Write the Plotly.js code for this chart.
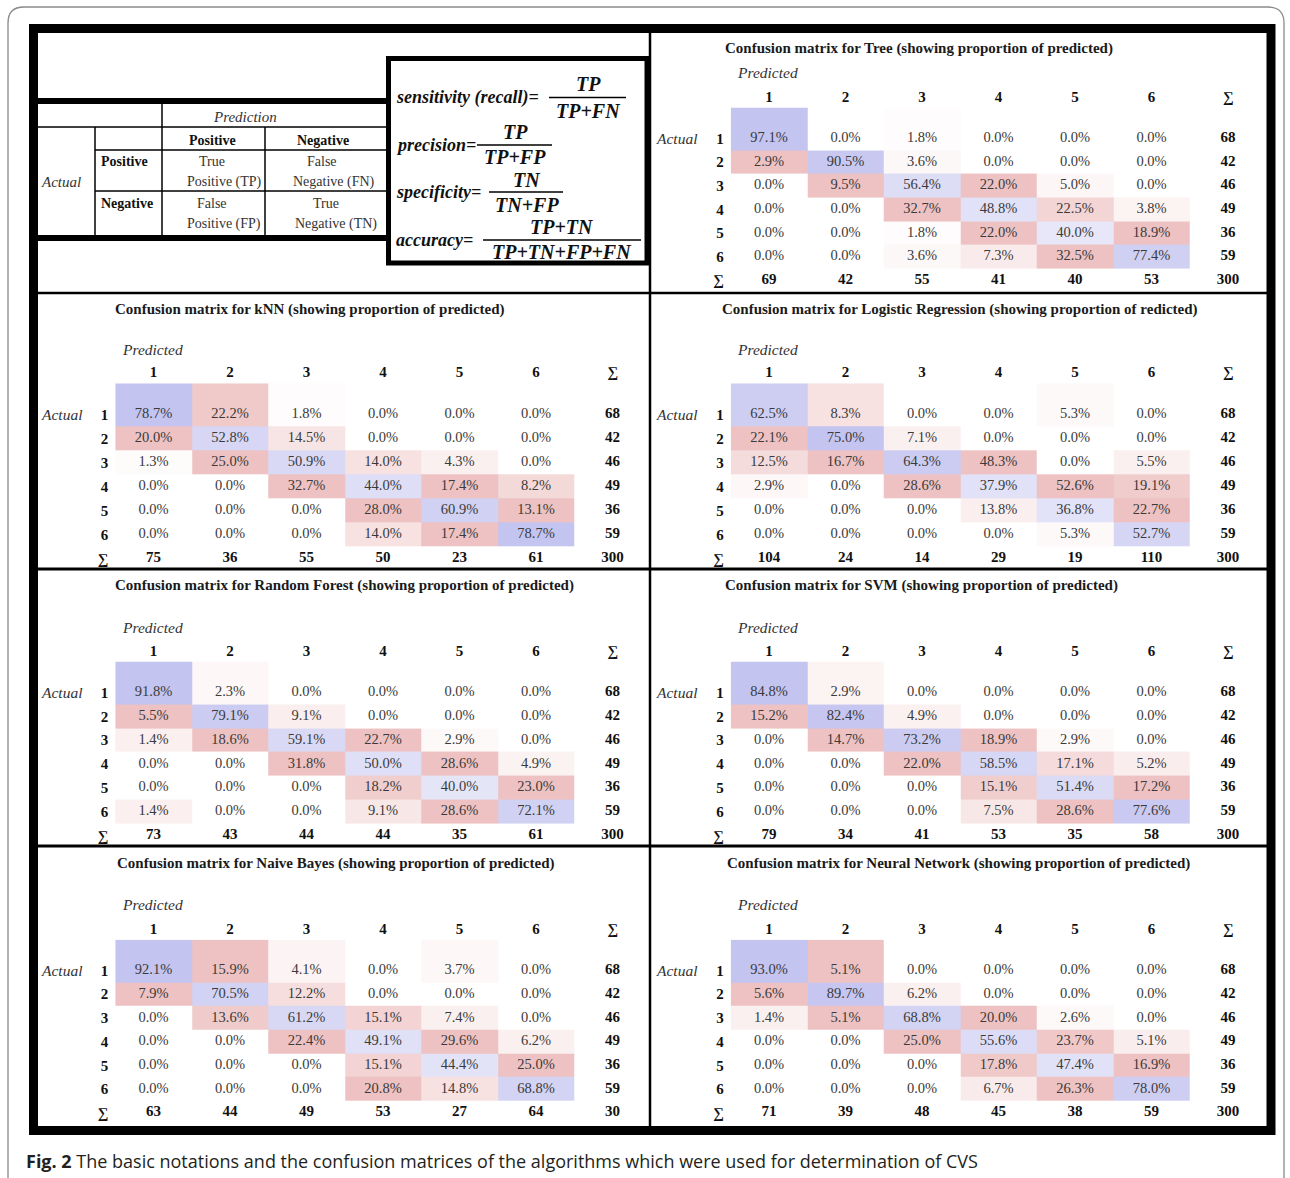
<!DOCTYPE html>
<html><head><meta charset="utf-8">
<script src="https://cdn.plot.ly/plotly-3.0.1.min.js"></script>
<style>html,body{margin:0;padding:0;background:#fff;}#chart{width:1290px;height:1178px;}</style>
</head><body><div id="chart"></div>
<script>
// ---------------- DATA ----------------
const classLabels = ['1','2','3','4','5','6'];
const sumLabel = '\u2211';
const actualCounts = [68, 42, 46, 49, 36, 59];

const treePct = [
  [97.1, 0.0, 1.8, 0.0, 0.0, 0.0],
  [2.9, 90.5, 3.6, 0.0, 0.0, 0.0],
  [0.0, 9.5, 56.4, 22.0, 5.0, 0.0],
  [0.0, 0.0, 32.7, 48.8, 22.5, 3.8],
  [0.0, 0.0, 1.8, 22.0, 40.0, 18.9],
  [0.0, 0.0, 3.6, 7.3, 32.5, 77.4]];
const treeColSum = [69, 42, 55, 41, 40, 53];
const treeTotal = '300';

const knnPct = [
  [78.7, 22.2, 1.8, 0.0, 0.0, 0.0],
  [20.0, 52.8, 14.5, 0.0, 0.0, 0.0],
  [1.3, 25.0, 50.9, 14.0, 4.3, 0.0],
  [0.0, 0.0, 32.7, 44.0, 17.4, 8.2],
  [0.0, 0.0, 0.0, 28.0, 60.9, 13.1],
  [0.0, 0.0, 0.0, 14.0, 17.4, 78.7]];
const knnColSum = [75, 36, 55, 50, 23, 61];
const knnTotal = '300';

const lrPct = [
  [62.5, 8.3, 0.0, 0.0, 5.3, 0.0],
  [22.1, 75.0, 7.1, 0.0, 0.0, 0.0],
  [12.5, 16.7, 64.3, 48.3, 0.0, 5.5],
  [2.9, 0.0, 28.6, 37.9, 52.6, 19.1],
  [0.0, 0.0, 0.0, 13.8, 36.8, 22.7],
  [0.0, 0.0, 0.0, 0.0, 5.3, 52.7]];
const lrColSum = [104, 24, 14, 29, 19, 110];
const lrTotal = '300';

const rfPct = [
  [91.8, 2.3, 0.0, 0.0, 0.0, 0.0],
  [5.5, 79.1, 9.1, 0.0, 0.0, 0.0],
  [1.4, 18.6, 59.1, 22.7, 2.9, 0.0],
  [0.0, 0.0, 31.8, 50.0, 28.6, 4.9],
  [0.0, 0.0, 0.0, 18.2, 40.0, 23.0],
  [1.4, 0.0, 0.0, 9.1, 28.6, 72.1]];
const rfColSum = [73, 43, 44, 44, 35, 61];
const rfTotal = '300';

const svmPct = [
  [84.8, 2.9, 0.0, 0.0, 0.0, 0.0],
  [15.2, 82.4, 4.9, 0.0, 0.0, 0.0],
  [0.0, 14.7, 73.2, 18.9, 2.9, 0.0],
  [0.0, 0.0, 22.0, 58.5, 17.1, 5.2],
  [0.0, 0.0, 0.0, 15.1, 51.4, 17.2],
  [0.0, 0.0, 0.0, 7.5, 28.6, 77.6]];
const svmColSum = [79, 34, 41, 53, 35, 58];
const svmTotal = '300';

const nbPct = [
  [92.1, 15.9, 4.1, 0.0, 3.7, 0.0],
  [7.9, 70.5, 12.2, 0.0, 0.0, 0.0],
  [0.0, 13.6, 61.2, 15.1, 7.4, 0.0],
  [0.0, 0.0, 22.4, 49.1, 29.6, 6.2],
  [0.0, 0.0, 0.0, 15.1, 44.4, 25.0],
  [0.0, 0.0, 0.0, 20.8, 14.8, 68.8]];
const nbColSum = [63, 44, 49, 53, 27, 64];
const nbTotal = '30';

const nnPct = [
  [93.0, 5.1, 0.0, 0.0, 0.0, 0.0],
  [5.6, 89.7, 6.2, 0.0, 0.0, 0.0],
  [1.4, 5.1, 68.8, 20.0, 2.6, 0.0],
  [0.0, 0.0, 25.0, 55.6, 23.7, 5.1],
  [0.0, 0.0, 0.0, 17.8, 47.4, 16.9],
  [0.0, 0.0, 0.0, 6.7, 26.3, 78.0]];
const nnColSum = [71, 39, 48, 45, 38, 59];
const nnTotal = '300';

const panelTitles = [
  'Confusion matrix for Tree (showing proportion of predicted)',
  'Confusion matrix for kNN (showing proportion of predicted)',
  'Confusion matrix for Logistic Regression (showing proportion of redicted)',
  'Confusion matrix for Random Forest (showing proportion of predicted)',
  'Confusion matrix for SVM (showing proportion of predicted)',
  'Confusion matrix for Naive Bayes (showing proportion of predicted)',
  'Confusion matrix for Neural Network (showing proportion of predicted)'];

const captionText = '<b>Fig. 2</b> The basic notations and the confusion matrices of the algorithms which were used for determination of CVS';

// ---------------- LAYOUT / STYLE ----------------
const W = 1290, H = 1178;
const fx = p => p / W;
const fy = p => 1 - p / H;
const SERIF = 'Liberation Serif, Times New Roman, serif';
const COLW = 76.5;
const ROW1_TOP = -0.3;

const panels = [
  {pct: treePct, colSum: treeColSum, total: treeTotal, col1X: 769,   row1Y: 138.3, rowH: 23.65, titleX: 723, titleY: 48,  predY: 72},
  {pct: knnPct,  colSum: knnColSum,  total: knnTotal,  col1X: 153.5, row1Y: 414.5, rowH: 24.0,  titleX: 113, titleY: 309, predY: 349},
  {pct: lrPct,   colSum: lrColSum,   total: lrTotal,   col1X: 769,   row1Y: 414.5, rowH: 24.0,  titleX: 720, titleY: 309, predY: 349},
  {pct: rfPct,   colSum: rfColSum,   total: rfTotal,   col1X: 153.5, row1Y: 692.5, rowH: 23.8,  titleX: 113, titleY: 586, predY: 627},
  {pct: svmPct,  colSum: svmColSum,  total: svmTotal,  col1X: 769,   row1Y: 692.5, rowH: 23.8,  titleX: 723, titleY: 586, predY: 627},
  {pct: nbPct,   colSum: nbColSum,   total: nbTotal,   col1X: 153.5, row1Y: 970.5, rowH: 23.7,  titleX: 115, titleY: 863, predY: 904},
  {pct: nnPct,   colSum: nnColSum,   total: nnTotal,   col1X: 769,   row1Y: 970.5, rowH: 23.7,  titleX: 725, titleY: 863, predY: 904}
];

// Orange-style colouring: diagonal blue scaled by max diagonal, off-diagonal red scaled by column max
function colourValues(pct) {
  const n = pct.length;
  const diagMax = Math.max(...pct.map((r, i) => r[i])) || 1;
  const colMax = [];
  for (let j = 0; j < n; j++) {
    let m = 0;
    for (let i = 0; i < n; i++) if (i !== j) m = Math.max(m, pct[i][j]);
    colMax.push(m || 1);
  }
  return pct.map((r, i) => r.map((v, j) => i === j ? v / diagMax : -v / colMax[j]));
}

const colorscale = [[0, 'rgb(238,194,194)'], [0.5, 'rgb(255,255,255)'], [1, 'rgb(196,196,240)']];

const traces = [];
const layout = {
  width: W, height: H,
  margin: {l: 0, r: 0, t: 0, b: 0},
  paper_bgcolor: '#fff', plot_bgcolor: 'rgba(0,0,0,0)',
  showlegend: false,
  shapes: [], annotations: []
};

const ticksAll = [1, 2, 3, 4, 5, 6, 7];
const tickTextAll = classLabels.concat([sumLabel]);

panels.forEach((p, k) => {
  const s = k === 0 ? '' : String(k + 1);
  const n = classLabels.length;
  const xs = classLabels.map((_, j) => j + 1);
  const yEdges = [ROW1_TOP].concat(classLabels.map((_, i) => i + 1.5));
  traces.push({
    type: 'heatmap', x: xs, y: yEdges, z: colourValues(p.pct),
    zmin: -1, zmax: 1, colorscale: colorscale, showscale: false,
    hoverinfo: 'skip', xaxis: 'x' + s, yaxis: 'y' + s
  });
  const tx = [], ty = [], tt = [];
  p.pct.forEach((row, i) => row.forEach((v, j) => { tx.push(j + 1); ty.push(i + 1); tt.push(v.toFixed(1) + '%'); }));
  traces.push({
    type: 'scatter', mode: 'text', x: tx, y: ty, text: tt,
    textfont: {family: SERIF, size: 14.5, color: '#3a3a3a'},
    hoverinfo: 'skip', cliponaxis: false, xaxis: 'x' + s, yaxis: 'y' + s
  });
  const sx = [], sy = [], st = [];
  actualCounts.forEach((c, i) => { sx.push(n + 1); sy.push(i + 1); st.push(String(c)); });
  p.colSum.forEach((c, j) => { sx.push(j + 1); sy.push(n + 1); st.push(String(c)); });
  sx.push(n + 1); sy.push(n + 1); st.push(p.total);
  traces.push({
    type: 'scatter', mode: 'text', x: sx, y: sy, text: st,
    textfont: {family: SERIF, size: 15, color: '#111', weight: 'bold'},
    hoverinfo: 'skip', cliponaxis: false, xaxis: 'x' + s, yaxis: 'y' + s
  });

  const left = p.col1X - 0.5 * COLW, right = p.col1X + (n + 0.5) * COLW;
  const top = p.row1Y - (1 - ROW1_TOP) * p.rowH, bottom = p.row1Y + (n + 0.5) * p.rowH;
  layout['xaxis' + s] = {
    domain: [fx(left), fx(Math.min(right, W))], range: [0.5, n + 1.5], anchor: 'y' + s,
    side: 'top', tickvals: ticksAll, ticktext: tickTextAll, ticks: '',
    showgrid: false, zeroline: false, showline: false, fixedrange: true,
    ticklabelstandoff: 2,
    tickfont: {family: SERIF, size: 15, color: '#111', weight: 'bold'}
  };
  layout['yaxis' + s] = {
    domain: [fy(bottom), fy(top)], range: [n + 1.5, ROW1_TOP], anchor: 'x' + s,
    tickvals: ticksAll, ticktext: tickTextAll, ticks: '',
    showgrid: false, zeroline: false, showline: false, fixedrange: true,
    ticklabelstandoff: 6,
    tickfont: {family: SERIF, size: 15, color: '#111', weight: 'bold'}
  };
  layout.annotations.push(
    {text: panelTitles[k], x: fx(p.titleX), y: fy(p.titleY), xref: 'paper', yref: 'paper', xanchor: 'left', yanchor: 'middle', showarrow: false,
     font: {family: SERIF, size: 15, color: '#1a1a1a', weight: 'bold'}},
    {text: 'Predicted', x: fx(p.col1X - 34), y: fy(p.predY), xref: 'paper', yref: 'paper', xanchor: 'left', yanchor: 'middle', showarrow: false,
     font: {family: SERIF, size: 15.5, color: '#333', style: 'italic'}},
    {text: 'Actual', x: fx(p.col1X - 115), y: fy(p.row1Y), xref: 'paper', yref: 'paper', xanchor: 'left', yanchor: 'middle', showarrow: false,
     font: {family: SERIF, size: 15.5, color: '#333', style: 'italic'}}
  );
});

// ---------- frame & notation panel shapes ----------
function line(x0, y0, x1, y1, w, c) {
  return {type: 'line', xref: 'paper', yref: 'paper', x0: fx(x0), y0: fy(y0), x1: fx(x1), y1: fy(y1), line: {color: c || '#000', width: w}};
}
function rect(x0, y0, x1, y1, w) {
  return {type: 'rect', xref: 'paper', yref: 'paper', x0: fx(x0), y0: fy(y0), x1: fx(x1), y1: fy(y1), line: {color: '#000', width: w}, fillcolor: 'rgba(0,0,0,0)'};
}
(function () {
  const x0 = 8, y0 = 7, x1 = 1284, y1 = 1200, r = 16;
  const P = (x, y) => fx(x) + ',' + fy(y);
  const path = 'M ' + P(x0, y1) + ' L ' + P(x0, y0 + r) + ' Q ' + P(x0, y0) + ' ' + P(x0 + r, y0) +
    ' L ' + P(x1 - r, y0) + ' Q ' + P(x1, y0) + ' ' + P(x1, y0 + r) + ' L ' + P(x1, y1);
  layout.shapes.push({type: 'path', xref: 'paper', yref: 'paper', path: path, line: {color: '#8a8a8a', width: 1.3}});
})();
layout.shapes.push(
  rect(33.5, 28.5, 1271, 1130.5, 9),
  line(650, 33, 650, 1126, 2.5),
  line(38, 293, 1267, 293, 2.5),
  line(38, 569, 1267, 569, 3),
  line(38, 846, 1267, 846, 3),
  line(38, 101, 388, 101, 6),
  line(38, 238, 388, 238, 6),
  line(38, 127, 388, 127, 1.5),
  line(95, 150, 388, 150, 1.5),
  line(95, 191, 388, 191, 1.5),
  line(95, 127, 95, 235, 1.5),
  line(162, 104, 162, 235, 1.5),
  line(265, 127, 265, 235, 1.5),
  rect(388.5, 58.5, 647, 263, 5),
  line(549, 97.5, 626, 97.5, 1.6),
  line(477, 145, 552, 145, 1.6),
  line(489, 192, 563, 192, 1.6),
  line(483, 240, 641, 240, 1.6)
);

function txt(text, x, y, opts) {
  const o = opts || {};
  return {text: text, x: fx(x), y: fy(y), xref: 'paper', yref: 'paper', showarrow: false,
    xanchor: o.xanchor || 'center', yanchor: 'middle', borderpad: 0,
    font: Object.assign({family: SERIF, size: 14, color: '#333'}, o.font || {})};
}
const FB = {size: 18, color: '#111', style: 'italic', weight: 'bold'};
const FF = {size: 20, color: '#111', style: 'italic', weight: 'bold'};
layout.annotations.push(
  txt('Prediction', 245, 117, {font: {style: 'italic', size: 15}}),
  txt('Positive', 212, 140, {font: {color: '#111', weight: 'bold'}}),
  txt('Negative', 323, 140, {font: {color: '#111', weight: 'bold'}}),
  txt('Positive', 100, 162, {xanchor: 'left', font: {color: '#111', weight: 'bold'}}),
  txt('Negative', 100, 204, {xanchor: 'left', font: {color: '#111', weight: 'bold'}}),
  txt('Actual', 40, 182, {xanchor: 'left', font: {style: 'italic', size: 15}}),
  txt('True', 212, 161), txt('Positive (TP)', 224, 182),
  txt('False', 322, 161), txt('Negative (FN)', 334, 182),
  txt('False', 212, 203), txt('Positive (FP)', 224, 224),
  txt('True', 326, 203), txt('Negative (TN)', 336, 224),
  txt('sensitivity (recall)=', 395, 97, {xanchor: 'left', font: FB}),
  txt('TP', 588, 84, {font: FF}),
  txt('TP+FN', 588, 111, {font: FF}),
  txt('precision=', 395, 145, {xanchor: 'left', font: FB}),
  txt('TP', 515, 132, {font: FF}),
  txt('TP+FP', 515, 157, {font: FF}),
  txt('specificity=', 395, 192, {xanchor: 'left', font: FB}),
  txt('TN', 527, 180, {font: FF}),
  txt('TN+FP', 527, 205, {font: FF}),
  txt('accuracy=', 395, 240, {xanchor: 'left', font: FB}),
  txt('TP+TN', 562, 227, {font: FF}),
  txt('TP+TN+FP+FN', 562, 252, {font: FF}),
  txt(captionText, 25, 1161, {xanchor: 'left', font: {family: 'Open Sans, Noto Sans, sans-serif', size: 18, color: '#231f20'}})
);

Plotly.newPlot('chart', traces, layout, {displayModeBar: false, staticPlot: true});
</script>
</body></html>
